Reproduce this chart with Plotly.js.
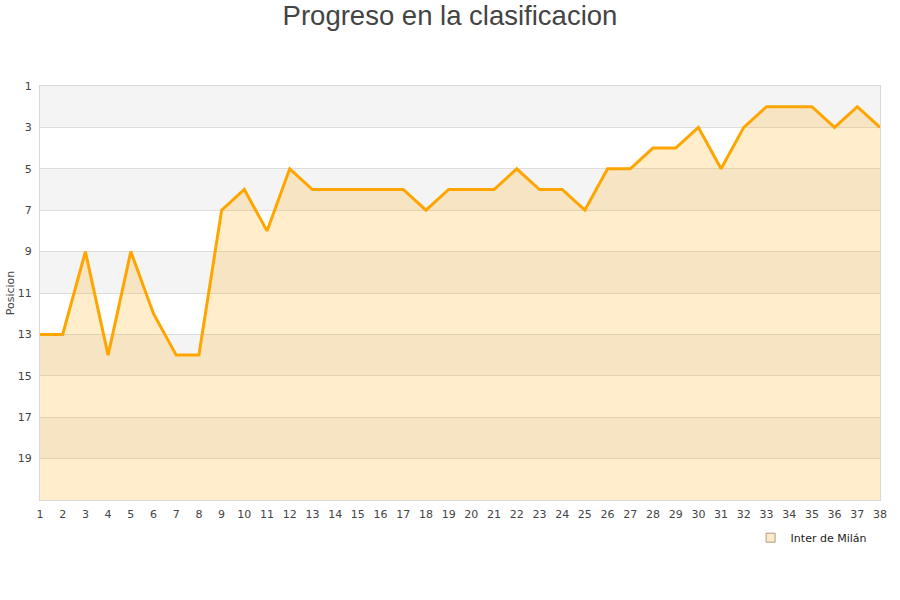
<!DOCTYPE html>
<html>
<head>
<meta charset="utf-8">
<script src="https://cdn.plot.ly/plotly-3.0.1.min.js"></script>
<style>html,body{margin:0;padding:0;background:#fff;}#chart{width:900px;height:600px;}</style>
</head>
<body>
<div id="chart"></div>
<script>
const rounds = [1,2,3,4,5,6,7,8,9,10,11,12,13,14,15,16,17,18,19,20,21,22,23,24,25,26,27,28,29,30,31,32,33,34,35,36,37,38];
const positions = [13,13,9,14,9,12,14,14,7,6,8,5,6,6,6,6,6,7,6,6,6,5,6,6,7,5,5,4,4,3,5,3,2,2,2,3,2,3];
const yTicks = [1,3,5,7,9,11,13,15,17,19];
const teamName = "Inter de Milán";
const lastPosition = 21;

const baseline = rounds.map(() => lastPosition);

// alternating background bands (start of each gray band)
const grayBandStarts = [1,5,9,13,17];
const shapes = grayBandStarts.map(s => ({
  type: 'rect', xref: 'paper', yref: 'y', x0: 0, x1: 1, y0: s, y1: s + 2,
  fillcolor: '#f4f4f4', line: {width: 0}, layer: 'below'
}));

const traces = [
  {x: rounds, y: baseline, mode: 'lines', line: {width: 0, color: 'rgba(0,0,0,0)'}, showlegend: false, hoverinfo: 'skip'},
  {x: rounds, y: positions, mode: 'lines', fill: 'tonexty', fillcolor: 'rgba(255,165,0,0.2)',
   line: {color: '#ffa500', width: 3}, name: teamName, showlegend: false},
  {x: [null], y: [null], mode: 'markers', name: teamName,
   marker: {symbol: 'square', size: 9, color: '#fdeac8', line: {color: '#b09a80', width: 1}}}
];

const layout = {
  width: 900, height: 600,
  margin: {l: 40, r: 20, t: 86, b: 100},
  paper_bgcolor: '#ffffff', plot_bgcolor: '#ffffff',
  title: {text: 'Progreso en la clasificacion', x: 0.5, xanchor: 'center', y: 0.99, yanchor: 'top',
          font: {family: 'Liberation Sans, Arial, sans-serif', size: 27.5, color: '#444444'}},
  font: {family: 'DejaVu Sans, sans-serif', size: 11, color: '#444444'},
  shapes: shapes,
  xaxis: {range: [1, 38], tickmode: 'array', tickvals: rounds, ticktext: rounds.map(String),
          showgrid: false, zeroline: false, showline: true, mirror: true, linecolor: '#d8d8d8', linewidth: 1,
          ticks: '', ticklabelstandoff: 4, tickfont: {size: 11, color: '#444444'}, fixedrange: true},
  yaxis: {range: [lastPosition, 1], tickmode: 'array', tickvals: yTicks, ticktext: yTicks.map(String),
          showgrid: true, gridcolor: '#dddddd', gridwidth: 1, zeroline: false,
          showline: true, mirror: true, linecolor: '#d8d8d8', linewidth: 1, ticks: '', ticklen: 0,
          ticklabelstandoff: 5,
          tickfont: {size: 11, color: '#444444'},
          title: {text: 'Posicion', font: {size: 11, color: '#444444'}, standoff: 0}},
  legend: {orientation: 'h', x: 0.99, xanchor: 'right', y: -0.056, yanchor: 'top',
           font: {size: 11, color: '#222222'}, bgcolor: 'rgba(0,0,0,0)'},
  showlegend: true
};

Plotly.newPlot('chart', traces, layout, {displayModeBar: false, staticPlot: true});
</script>
</body>
</html>
